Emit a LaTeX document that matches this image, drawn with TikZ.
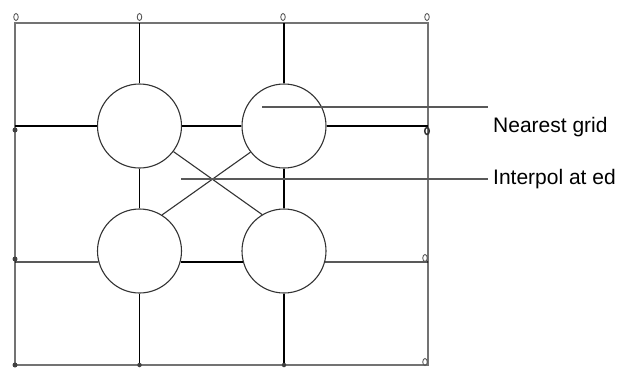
\documentclass[tikz,border=0pt]{standalone}
\usepackage{fontspec}
\setmainfont{Liberation Sans}
\usetikzlibrary{shapes.geometric}
\begin{document}
\begin{tikzpicture}[x=1pt,y=-1pt,
  cell/.style={circle,draw=black!80,line width=1.1pt,minimum size=84pt,inner sep=0pt},
  border/.style={draw=black!55,line width=2pt},
  gridline/.style={draw=black,line width=1.1pt},
  leader/.style={draw=black!65,line width=1.4pt},
  lbl/.style={anchor=west,inner sep=0pt,font=\fontsize{21}{24}\selectfont},
  omark/.style={draw=black!65,line width=0.9pt,ellipse,inner sep=0pt,minimum width=4.5pt,minimum height=7pt},
  dmark/.style={circle,fill=black!75,inner sep=0pt,minimum size=5pt}]
\useasboundingbox (0,0) rectangle (633,373);
% border
\coordinate (tl) at (15,23);
\coordinate (br) at (428,365);
\draw[border] (tl) rectangle (br);
% cells
\node[cell] (ul) at (139.5,126) {};
\node[cell] (ur) at (284,126) {};
\node[cell] (ll) at (139.5,251) {};
\node[cell] (lr) at (284,251) {};
% border points
\coordinate (t1) at (139.5,23);
\coordinate (t2) at (284,23);
\coordinate (b1) at (139.5,365);
\coordinate (b2) at (284,365);
\coordinate (l1) at (15,126);
\coordinate (r1) at (428,126);
\coordinate (l2) at (15,262);
\coordinate (r2) at (428,262);
% grid lines
\draw[gridline] (t1) -- (ul.north);
\draw[gridline] (ul.south) -- (ll.north);
\draw[gridline] (ll.south) -- (b1);
\draw[gridline] (t2) -- (ur.north);
\draw[gridline] (ur.south) -- (lr.north);
\draw[gridline] (lr.south) -- (b2);
\draw[gridline] (l1) -- (ul.west);
\draw[gridline] (ul.east) -- (ur.west);
\draw[gridline] (ur.east) -- (r1);
\draw[gridline] (l2) -- (ll.195);
\draw[gridline] (ll.345) -- (lr.195);
\draw[gridline] (lr.345) -- (r2);
% diagonals
\draw[gridline,draw=black!80] (ul.323) -- (lr.121);
\draw[gridline,draw=black!80] (ll.58) -- (ur.218);
% markers
\node[omark] (m1) at (16,17) {};
\node[omark] (m2) at (139.5,17) {};
\node[omark] (m3) at (283,17) {};
\node[omark] (m4) at (427,17) {};
\node[dmark] (m5) at (15,130) {};
\node[dmark] (m6) at (15,259) {};
\node[dmark] (m7) at (15,365) {};
\node[omark,line width=1.5pt,draw=black!80] (m8) at (427,131) {};
\node[omark] (m9) at (425,258) {};
\node[omark] (m10) at (425,362) {};
\node[dmark,minimum size=4.5pt] (m11) at (139.5,365) {};
\node[dmark,minimum size=4.5pt] (m12) at (284,365) {};
% leaders and labels
\coordinate (s1) at (262,107);
\coordinate (e1) at (488,107);
\coordinate (s2) at (181,179);
\coordinate (e2) at (488,179);
\draw[leader] (s1) -- (e1);
\draw[leader] (s2) -- (e2);
\node[lbl] (n1) at (493,127) {Nearest grid};
\node[lbl] (n2) at (493,179) {Interpol at ed};
\end{tikzpicture}
\end{document}
